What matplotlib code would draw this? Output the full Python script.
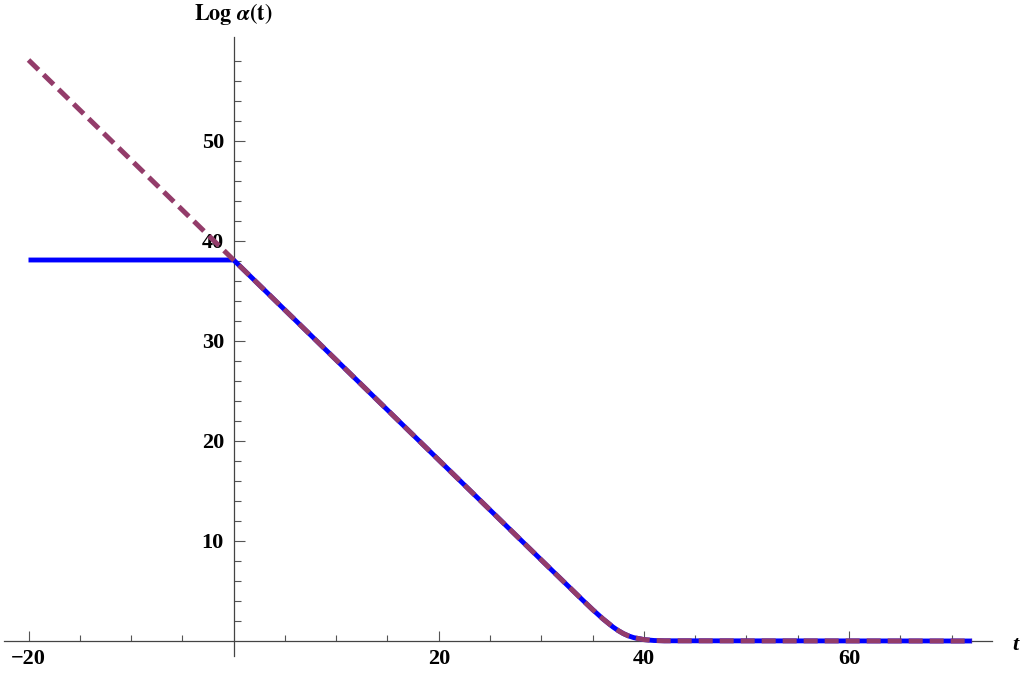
import numpy as np
import matplotlib
matplotlib.use("Agg")
import matplotlib.pyplot as plt
from matplotlib.ticker import FixedLocator

# values
t_diag = [-20, 0, 30, 34, 35, 36, 37, 37.5, 38, 38.5, 39, 40, 41, 42, 72]
y_diag = [58.1, 38.1, 8.1, 4.12, 3.14, 2.22, 1.39, 1.04, 0.74, 0.51, 0.34, 0.14, 0.05, 0.02, 0.0]

t_blue = [-20] + t_diag[1:]
y_blue = [38.1] + y_diag[1:]

x_major = [-20, 20, 40, 60]
x_minor = [-15, -10, -5, 5, 10, 15, 25, 30, 35, 45, 50, 55, 65, 70]
y_major = [10, 20, 30, 40, 50]
y_minor = [2, 4, 6, 8, 12, 14, 16, 18, 22, 24, 26, 28, 32, 34, 36, 38,
           42, 44, 46, 48, 52, 54, 56, 58]

plt.rcParams["mathtext.fontset"] = "stix"

fig = plt.figure(figsize=(10.21, 6.8), dpi=100)
ax = fig.add_axes([0, 0, 1, 1])
ax.patch.set_alpha(0)

ax.plot(t_blue, y_blue, color="#0000ff", lw=3.5, solid_capstyle="butt", zorder=3)
ax.plot(t_diag, y_diag, color="#933c6a", lw=3.6, dashes=(2.8, 1.4), zorder=4)

ax.set_xlim(-22.78, 76.77)
ax.set_ylim(-3.9, 64.1)

for s in ["top", "right"]:
    ax.spines[s].set_visible(False)
ax.spines["bottom"].set_position(("data", 0))
ax.spines["left"].set_position(("data", 0))
ax.spines["bottom"].set_bounds(-22.4, 73.9)
ax.spines["left"].set_bounds(-1.5, 60.4)
for s in ["bottom", "left"]:
    ax.spines[s].set_color("#444444")
    ax.spines[s].set_linewidth(0.9)
    ax.spines[s].set_zorder(2)

ax.xaxis.set_major_locator(FixedLocator(x_major))
ax.xaxis.set_minor_locator(FixedLocator(x_minor))
ax.yaxis.set_major_locator(FixedLocator(y_major))
ax.yaxis.set_minor_locator(FixedLocator(y_minor))
ax.set_xticklabels(["\u221220", "20", "40", "60"])
ax.set_yticklabels([str(v) for v in y_major])

ax.tick_params(which="both", direction="in", color="#555555", width=0.8)
ax.tick_params(axis="x", which="major", length=7.5, pad=6)
ax.tick_params(axis="x", which="minor", length=4.3)
ax.tick_params(axis="y", which="major", length=8, pad=7)
ax.tick_params(axis="y", which="minor", length=4.8)
for lab in ax.get_xticklabels() + ax.get_yticklabels():
    lab.set_fontfamily("Liberation Serif")
    lab.set_fontweight("bold")
    lab.set_fontsize(16)

ax.text(0, 62.7, r"$\mathbf{Log}\ \boldsymbol{\alpha}\mathbf{(t)}$", ha="center", va="center", fontsize=16)
ax.text(76.2, -0.4, "t", ha="center", va="center", fontsize=16,
        family="Liberation Serif", weight="bold", style="italic")

fig.savefig("out.png", dpi=100, facecolor="white")
